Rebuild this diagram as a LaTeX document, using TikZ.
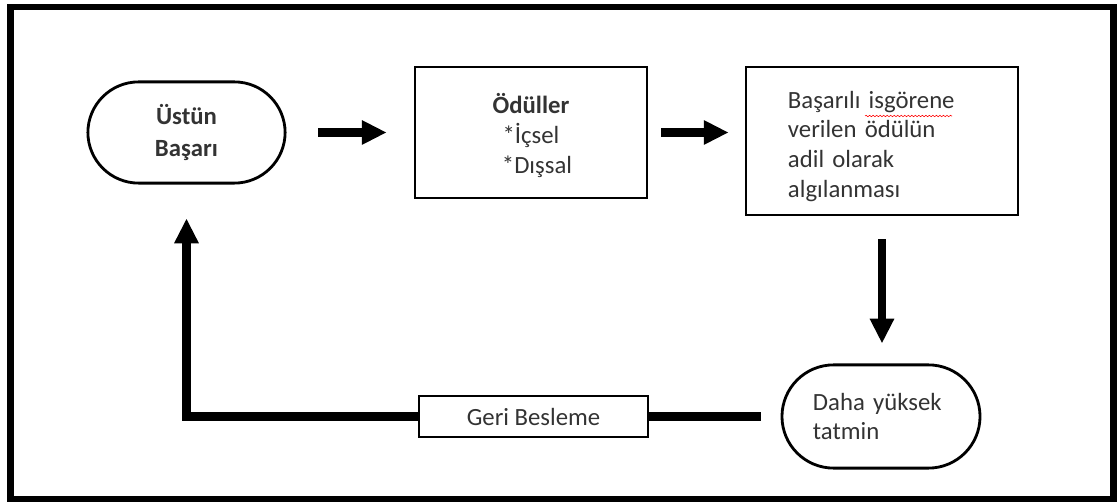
\documentclass[tikz,border=0pt]{standalone}
\usepackage{fontspec}
\setmainfont{Carlito}
\usepackage{tikz}
\usetikzlibrary{arrows.meta,calc}
\usetikzlibrary{decorations.pathmorphing}

\begin{document}
\begin{tikzpicture}[x=0.025cm,y=-0.025cm,
		box/.style={draw,line width=2pt,text=black!80,font=\fontsize{17.6}{21.3}\selectfont},
		pill/.style={box,rounded corners=1.27cm},
		fat/.style={line width=5.7pt,-{Triangle[width=16.3pt,length=17.7pt]}}]
		
		\useasboundingbox (0,0) rectangle (1117,503);
		\draw[line width=4.96pt] (10.5,7) rectangle (1113.5,499);
		
		\node[pill,minimum width=4.93cm,minimum height=2.53cm,align=center] (ustun) at (186.5,132.5) {\bfseries Üstün\\[1.4pt] \bfseries Başarı};
		\node[box,minimum width=5.8cm,minimum height=3.275cm,align=center] (oduller) at (531,132.5) {\rule{0pt}{19pt}\bfseries Ödüller\\ *İçsel\\ \hspace{0.3cm}*Dışsal};
		\node[box,minimum width=6.8cm,minimum height=3.7cm,inner xsep=1.05cm,text width=4.7cm,align=left] (algi) at (882,141) {\rule{0pt}{20pt}Başarılı isgörene\\ verilen ödülün\\ adil olarak\\ algılanması};
		\node[pill,minimum width=4.95cm,minimum height=2.58cm,rounded corners=1.29cm,inner xsep=0.775cm,text width=3.4cm,align=left] (daha) at (881,416.5) {Daha yüksek\\ tatmin};
		\node[box,minimum width=5.725cm,minimum height=1.025cm] (geri) at (533.5,416.5) {Geri Besleme};
		
		\draw[red,decorate,decoration={snake,amplitude=0.5pt,segment length=2.5pt}] (865,116) -- (952,116);
		
		\draw[fat,shorten <=22.7pt,shorten >=19.1pt] (ustun.east) -- (oduller.west);
		\draw[fat,shorten <=9.2pt,shorten >=11.3pt] (oduller.east) -- (oduller.east -| algi.west);
		\draw[fat,shorten <=16.3pt,shorten >=14.2pt] (algi.south) -- (algi.south |- daha.north);
		\draw[line width=5.7pt,shorten <=14.2pt] (daha.west) -- (geri.east);
		\draw[fat,shorten >=24.1pt] (geri.west) -| (ustun.south);
		\end{tikzpicture}
\end{document}
